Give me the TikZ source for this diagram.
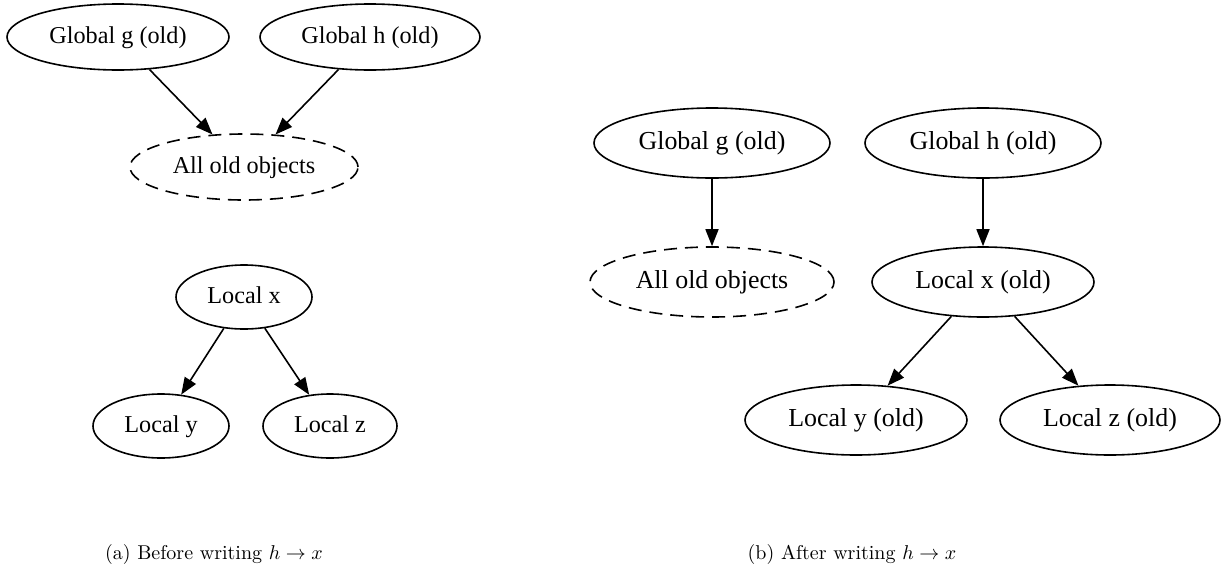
\documentclass[tikz,border=0pt]{standalone}
\usepackage{fontspec}
\newfontfamily\gvfont{Liberation Serif}
\usetikzlibrary{shapes.geometric,arrows.meta}

\tikzset{
  gv/.style={ellipse, draw, line width=0.8pt, inner sep=0pt,
    text height=0.66em, text depth=0.04em},
  gva/.style={gv, font=\gvfont\fontsize{12.1}{14}\selectfont},
  gvb/.style={gv, font=\gvfont\fontsize{12.95}{15}\selectfont},
  oldset/.style={dash pattern=on 6.5pt off 4pt},
  edge/.style={line width=0.8pt, -{Triangle[length=8.5pt,width=6.5pt]}},
  caption/.style={font=\fontsize{10}{12}\selectfont, anchor=base}
}

\begin{document}
\begin{tikzpicture}[x=0.5pt, y=-0.5pt]
  \useasboundingbox (0,0) rectangle (1222,574);

  % (a) before the write
  \node[gva, minimum width=111pt, minimum height=33pt] (ga) at (118,37) {Global g (old)};
  \node[gva, minimum width=110pt, minimum height=33pt] (ha) at (370,37) {Global h (old)};
  \node[gva, oldset, minimum width=114pt, minimum height=33pt] (alla) at (244,167) {All old objects};
  \node[gva, minimum width=68pt, minimum height=32pt] (xa) at (244,297) {Local x};
  \node[gva, minimum width=68pt, minimum height=32pt] (ya) at (161,426) {Local y};
  \node[gva, minimum width=67pt, minimum height=32pt] (za) at (330,426) {Local z};

  \draw[edge] (ga) -- (alla);
  \draw[edge] (ha) -- (alla);
  \draw[edge] (xa) -- (ya);
  \draw[edge] (xa) -- (za);

  \node[caption] (capa) at (214,559) {(a) Before writing $h \to x$};

  % (b) after the write
  \node[gvb, minimum width=118pt, minimum height=35pt] (gb) at (712,143) {Global g (old)};
  \node[gvb, minimum width=118pt, minimum height=35pt] (hb) at (983,143) {Global h (old)};
  \node[gvb, oldset, minimum width=122pt, minimum height=35pt] (allb) at (712,282) {All old objects};
  \node[gvb, minimum width=111pt, minimum height=35pt] (xb) at (983,282) {Local x (old)};
  \node[gvb, minimum width=111pt, minimum height=35pt] (yb) at (856,420) {Local y (old)};
  \node[gvb, minimum width=110pt, minimum height=35pt] (zb) at (1110,420) {Local z (old)};

  \draw[edge] (gb) -- (allb);
  \draw[edge] (hb) -- (xb);
  \draw[edge] (xb) -- (yb);
  \draw[edge] (xb) -- (zb);

  \node[caption] (capb) at (852,559) {(b) After writing $h \to x$};
\end{tikzpicture}
\end{document}
